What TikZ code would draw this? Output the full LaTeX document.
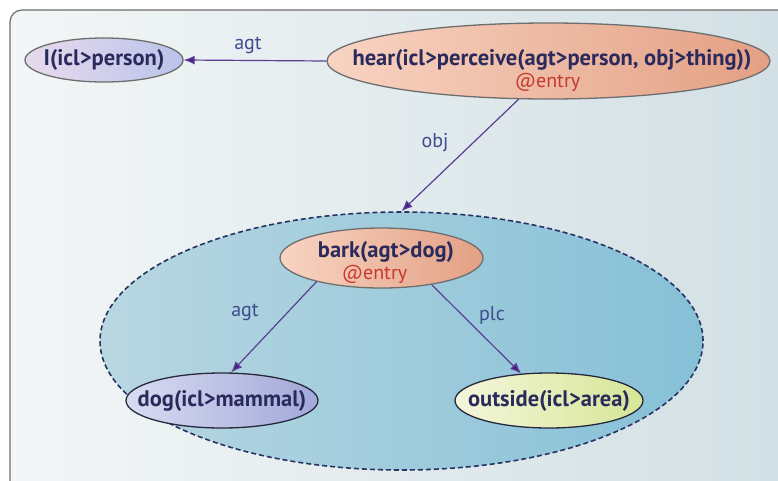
\documentclass[tikz,border=0pt]{standalone}
\usepackage{fontspec}
\setmainfont{PT Sans}
\usetikzlibrary{shapes.geometric,arrows.meta}

\definecolor{txtnavy}{HTML}{2B2A5C}
\definecolor{entryred}{HTML}{C8382E}
\definecolor{lblblue}{HTML}{3E4C8E}
\definecolor{arrpurple}{HTML}{5A3E94}
\definecolor{headpurple}{HTML}{4A1E82}
\definecolor{rimgray}{HTML}{6E6E6E}

% centred label that does not widen its ellipse
\newcommand\tightlabel[1]{\makebox[0pt]{#1}}

\tikzset{
  unl/.style={ellipse, draw=rimgray, line width=1.3pt, inner sep=0pt,
    font=\fontsize{22.5}{22}\selectfont\bfseries, text=txtnavy},
  ctext/.style={inner sep=0pt, anchor=base,
    font=\fontsize{22.5}{22}\selectfont\bfseries, text=txtnavy},
  entrytxt/.style={inner sep=0pt, anchor=base,
    font=\fontsize{20}{22}\selectfont, text=entryred},
  peachfill/.style={left color={rgb,255:red,248;green,212;blue,194},
    middle color={rgb,255:red,252;green,236;blue,224},
    right color={rgb,255:red,227;green,160;blue,132}},
  rel/.style={font=\fontsize{20}{22}\selectfont, text=lblblue},
  arr/.style={draw=arrpurple, line width=1.2pt,
    -{Latex[length=11pt,width=9pt,fill=headpurple]}},
}

\begin{document}
\begin{tikzpicture}[x=1pt,y=-1pt]
  \useasboundingbox (0,0) rectangle (778,480);
  \fill[white] (0,0) rectangle (778,480);

  % outer panel
  \begin{scope}
    \clip (0,0) rectangle (778,480);
    \draw[draw=rimgray, line width=1.2pt, rounded corners=12pt,
          left color={rgb,255:red,243;green,246;blue,246},
          right color={rgb,255:red,209;green,223;blue,228}]
      (10,10) rectangle (800,500);
  \end{scope}

  % dashed group
  \node[ellipse, draw={rgb,255:red,38;green,52;blue,100}, dashed,
        dash pattern=on 5pt off 3pt, line width=1.6pt,
        minimum width=603pt, minimum height=258pt, inner sep=0pt,
        left color={rgb,255:red,184;green,215;blue,225},
        middle color={rgb,255:red,200;green,226;blue,232},
        right color={rgb,255:red,134;green,192;blue,215}]
    (grp) at (401.5,341) {};

  % concept nodes
  \node[unl, minimum width=158pt, minimum height=44pt,
        left color={rgb,255:red,232;green,218;blue,236},
        middle color=white,
        right color={rgb,255:red,186;green,196;blue,234}]
    (I) at (104,60) {\tightlabel{I(icl>person)}};

  \node[unl, peachfill, minimum width=443pt, minimum height=76pt]
    (hear) at (548.5,61) {};
  \node[ctext] (heartxt) at (552,65) {hear(icl>perceive(agt>person, obj>thing))};
  \node[entrytxt] (hearentry) at (547.5,87) {@entry};

  \node[unl, peachfill, minimum width=203pt, minimum height=60pt]
    (bark) at (381.5,258) {};
  \node[ctext] (barktxt) at (386,257) {bark(agt>dog)};
  \node[entrytxt] (barkentry) at (374.5,279) {@entry};

  \node[unl, draw={rgb,255:red,40;green,40;blue,60},
        minimum width=192pt, minimum height=55pt,
        left color={rgb,255:red,216;green,220;blue,242},
        right color={rgb,255:red,162;green,168;blue,216}]
    (dog) at (222,400.5) {\tightlabel{dog(icl>mammal)}};

  \node[unl, draw={rgb,255:red,40;green,40;blue,60},
        minimum width=188pt, minimum height=55pt,
        left color={rgb,255:red,244;green,246;blue,220},
        right color={rgb,255:red,214;green,230;blue,150}]
    (out) at (549,400.5) {\tightlabel{outside(icl>area)}};

  % relations
  \draw[arr] (hear.west) -- (I.east);
  \draw[arr] (hear.232) -- (grp.north);
  \draw[arr] (bark.200) -- (dog.72);
  \draw[arr] (bark.332) -- (out.136);

  \node[rel] (lagt) at (248,45) {agt};
  \node[rel] (lobj) at (435,143) {obj};
  \node[rel] (lagt2) at (245,312) {agt};
  \node[rel] (lplc) at (492,315) {plc};
\end{tikzpicture}
\end{document}
